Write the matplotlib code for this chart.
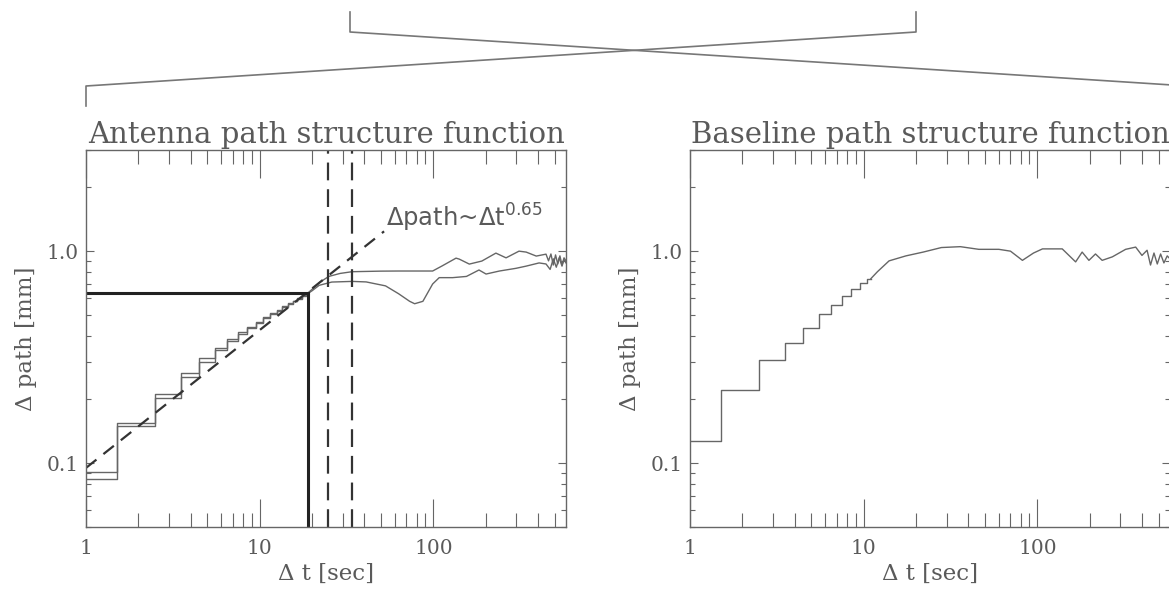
import numpy as np
import matplotlib.pyplot as plt
from matplotlib.lines import Line2D
from matplotlib.ticker import FixedLocator, FixedFormatter, LogLocator, NullFormatter

# --- antenna path structure function (left) ---
ant_step_t = np.arange(1, 20)
ant_hi_step = [0.091, 0.155, 0.212, 0.267, 0.313, 0.35, 0.385, 0.415, 0.44, 0.465,
               0.49, 0.51, 0.53, 0.55, 0.567, 0.585, 0.60, 0.618, 0.636]
ant_lo_step = [0.084, 0.149, 0.203, 0.255, 0.30, 0.34, 0.375, 0.405, 0.432, 0.458,
               0.482, 0.503, 0.524, 0.544, 0.562, 0.58, 0.597, 0.615, 0.632]
ant_hi_t = [19, 20, 22, 25, 29, 34, 50, 63, 80, 99, 112, 135, 141, 161, 190, 229, 262,
            311, 342, 391, 445, 460, 475, 490, 505, 520, 535, 550, 565, 580]
ant_hi = [0.636, 0.66, 0.71, 0.76, 0.785, 0.80, 0.805, 0.806, 0.806, 0.806, 0.851, 0.927,
          0.917, 0.869, 0.898, 0.979, 0.93, 1.0, 0.99, 0.948, 0.968, 0.90, 0.97, 0.86,
          0.96, 0.87, 0.95, 0.86, 0.93, 0.90]
ant_lo_t = [19, 20, 22, 26, 34, 41, 53, 63, 73, 78, 87, 99, 108, 129, 155, 183, 201, 240,
            299, 342, 406, 445, 470, 490, 510, 530, 550, 565, 580]
ant_lo = [0.632, 0.65, 0.69, 0.715, 0.72, 0.716, 0.686, 0.63, 0.58, 0.565, 0.58, 0.70,
          0.75, 0.75, 0.76, 0.815, 0.78, 0.806, 0.83, 0.85, 0.88, 0.87, 0.82, 0.92, 0.84,
          0.93, 0.85, 0.91, 0.88]
fit_t = [1, 52]
fit_path = [0.095, 1.24]
knee_t = 19
knee_path = 0.635
mark_t = [24.6, 34]

# --- baseline path structure function (right) ---
base_step_t = np.arange(1, 12)
base_step = [0.127, 0.221, 0.307, 0.37, 0.435, 0.503, 0.56, 0.615, 0.666, 0.71, 0.742]
base_t = [11, 12, 14, 17.5, 22, 28, 36, 46, 60, 70, 82, 95, 107, 139, 166, 181, 198, 216,
          236, 270, 322, 368, 400, 428, 448, 469, 490, 512, 535, 559, 580]
base = [0.742, 0.80, 0.90, 0.95, 0.99, 1.04, 1.05, 1.02, 1.02, 1.0, 0.905, 0.98, 1.025,
        1.025, 0.89, 0.99, 0.905, 0.97, 0.905, 0.94, 1.02, 1.045, 0.955, 1.01, 0.86, 0.98,
        0.87, 0.97, 0.88, 0.95, 0.92]

x_ticks = [1, 10, 100]
x_labels = ['1', '10', '100']
y_ticks = [0.1, 1.0]
y_labels = ['0.1', '1.0']

plt.rcParams['font.family'] = ['DejaVu Serif']
plt.rcParams['mathtext.fontset'] = 'dejavusans'
line_c = '#666666'
text_c = '#5a5a5a'

W, H = 1169, 591
fig = plt.figure(figsize=(W / 100, H / 100), dpi=100)


def style(ax, title):
    ax.set_xscale('log')
    ax.set_yscale('log')
    ax.set_xlim(1, 580)
    ax.set_ylim(0.05, 3.0)
    ax.xaxis.set_major_locator(FixedLocator(x_ticks))
    ax.xaxis.set_major_formatter(FixedFormatter(x_labels))
    ax.xaxis.set_minor_locator(LogLocator(subs=np.arange(2, 10)))
    ax.xaxis.set_minor_formatter(NullFormatter())
    ax.yaxis.set_major_locator(FixedLocator(y_ticks))
    ax.yaxis.set_major_formatter(FixedFormatter(y_labels))
    ax.yaxis.set_minor_locator(LogLocator(subs=np.arange(2, 10)))
    ax.yaxis.set_minor_formatter(NullFormatter())
    ax.tick_params(which='both', direction='in', top=True, right=True, color=line_c,
                   width=0.8, labelcolor=text_c, labelsize=14.5)
    ax.tick_params(axis='x', which='major', length=20, pad=9)
    ax.tick_params(axis='x', which='minor', length=10)
    ax.tick_params(axis='y', which='major', length=6, pad=5)
    ax.tick_params(axis='y', which='minor', length=3.5)
    for s in ax.spines.values():
        s.set_color(line_c)
        s.set_linewidth(1.0)
    ax.set_title(title, fontsize=21, color=text_c, pad=5)
    ax.set_xlabel('Δ t [sec]', fontsize=16.5, color=text_c, labelpad=3)
    ax.set_ylabel('Δ path [mm]', fontsize=16.5, color=text_c, labelpad=7)


ax1 = fig.add_axes([86 / W, 64 / H, 480 / W, 377 / H])
style(ax1, 'Antenna path structure function')
ax1.step(ant_step_t, ant_hi_step, where='mid', color=line_c, lw=1)
ax1.step(ant_step_t, ant_lo_step, where='mid', color=line_c, lw=1)
ax1.plot(ant_hi_t, ant_hi, color=line_c, lw=1)
ax1.plot(ant_lo_t, ant_lo, color=line_c, lw=1)
ax1.plot(fit_t, fit_path, color='#333333', lw=1.6, ls=(0, (6, 4)))
for t in mark_t:
    ax1.axvline(t, color='#333333', lw=1.6, ls=(0, (8, 4)))
ax1.plot([1, knee_t], [knee_path, knee_path], color='#222222', lw=2.2)
ax1.plot([knee_t, knee_t], [0.05, knee_path], color='#222222', lw=2.2)
ax1.text(53.5, 1.31, r'$\Delta$path~$\Delta$t$^{0.65}$', family='DejaVu Sans',
         fontsize=17.5, color=text_c, va='baseline')

ax2 = fig.add_axes([690 / W, 64 / H, 480 / W, 377 / H])
style(ax2, 'Baseline path structure function')
ax2.step(base_step_t, base_step, where='mid', color=line_c, lw=1)
ax2.plot(base_t, base, color=line_c, lw=1)

# bracket lines at the top
def fline(xs, ys):
    fig.add_artist(Line2D([x / W for x in xs], [1 - y / H for y in ys],
                          color='#777777', lw=1.2))

fline([350, 350, 1172], [12, 32, 85])
fline([916, 916, 86, 86], [12, 32, 86, 106])

fig.savefig('out.png', dpi=100)
